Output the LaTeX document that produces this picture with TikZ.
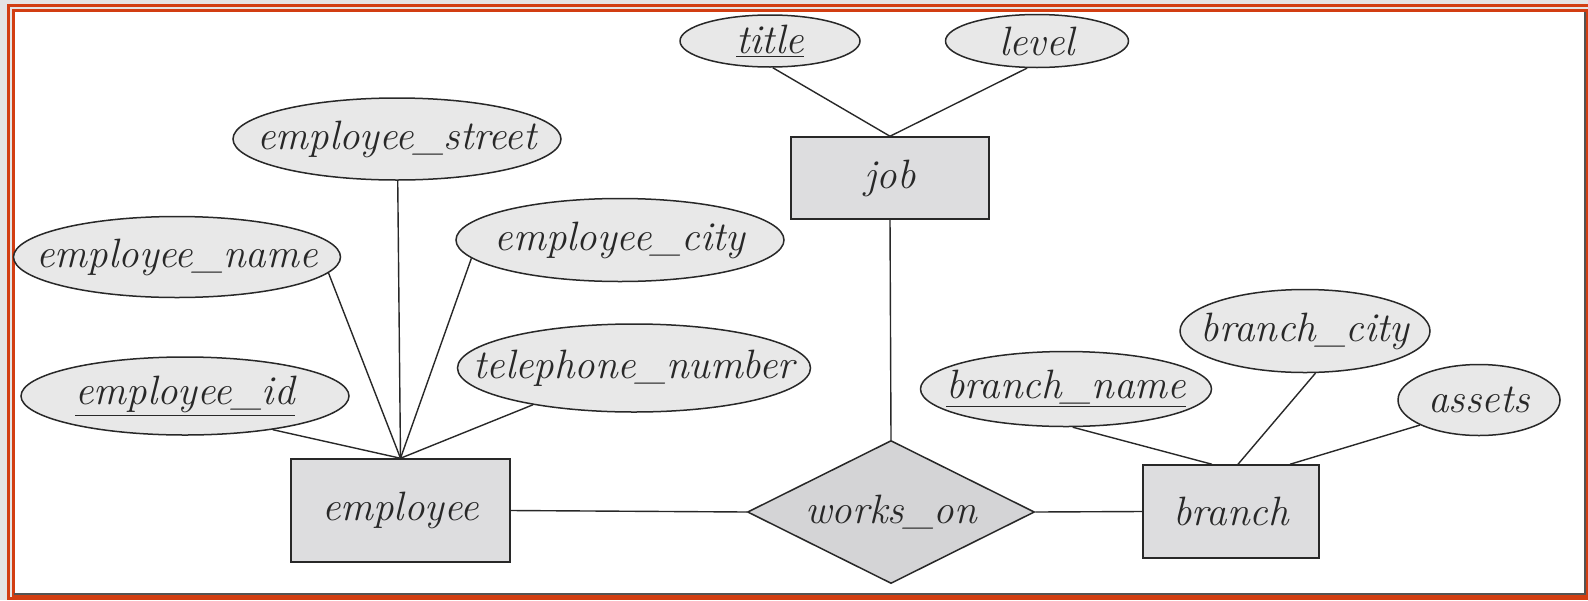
\documentclass[tikz,border=0pt]{standalone}
\usetikzlibrary{shapes.geometric,calc}
\definecolor{frameorange}{RGB}{210,62,18}
\definecolor{bggray}{RGB}{228,228,228}
\definecolor{ellfill}{RGB}{232,232,232}
\definecolor{rectfill}{RGB}{221,221,223}
\definecolor{relfill}{RGB}{212,212,214}
\definecolor{inkgray}{RGB}{40,40,40}
\tikzset{
  attr/.style={ellipse, draw=inkgray, fill=ellfill, line width=0.75pt, inner sep=0pt},
  ent/.style={rectangle, draw=inkgray, fill=rectfill, line width=0.75pt, inner sep=0pt},
  rel/.style={diamond, draw=inkgray, fill=relfill, line width=0.75pt, inner sep=0pt},
  lbl/.style={inner sep=0pt, text=inkgray, font=\fontsize{20.5}{24}\selectfont\itshape},
  conn/.style={draw=inkgray, line width=0.7pt}
}
\begin{document}
\begin{tikzpicture}[x=0.5pt,y=-0.5pt]
\useasboundingbox (0,0) rectangle (1588,600);
% frame
\fill[bggray] (0,0) rectangle (1588,600);
\draw[frameorange, line width=1.5pt] (8.5,5.5) rectangle (1600,598);
\fill[white] (13.5,10.5) rectangle (1586,595.5);
\draw[frameorange, line width=1.5pt] (13.5,10.5) rectangle (1587,596);
\draw[inkgray!80, line width=1pt] (14,594) -- (1585,594) -- (1585,12);
% attributes
\node[attr, minimum width=90pt, minimum height=26pt] (title) at (770,41) {};
\node[lbl] (titlet) at (title) {\underline{title}};
\node[attr, minimum width=91.5pt, minimum height=26.5pt] (level) at (1037,41) {};
\node[lbl] (levelt) at (level) {level};
\node[attr, minimum width=164pt, minimum height=41pt] (est) at (397,139) {};
\node[lbl] (estt) at (est) {employee\_street};
\node[attr, minimum width=163.5pt, minimum height=40.5pt] (ename) at (177,257) {};
\node[lbl] (enamet) at (ename) {employee\_name};
\node[attr, minimum width=164pt, minimum height=41.5pt] (ecity) at (620,240) {};
\node[lbl] (ecityt) at (ecity) {employee\_city};
\node[attr, minimum width=176.5pt, minimum height=44pt] (tel) at (634,368) {};
\node[lbl] (telt) at (tel) {telephone\_number};
\node[attr, minimum width=164pt, minimum height=39pt] (eid) at (185,396) {};
\node[lbl] (eidt) at (eid) {\underline{employee\_id}};
\node[attr, minimum width=145.5pt, minimum height=37.5pt] (bname) at (1066,389) {};
\node[lbl] (bnamet) at (bname) {\underline{branch\_name}};
\node[attr, minimum width=125pt, minimum height=41.5pt] (bcity) at (1305,331) {};
\node[lbl] (bcityt) at (bcity) {branch\_city};
\node[attr, minimum width=81pt, minimum height=35.5pt] (assets) at (1479,400) {};
\node[lbl] (assetst) at (assets) {assets};
% entities
\node[ent, minimum width=99pt, minimum height=41pt] (job) at (890,178) {};
\node[lbl] (jobt) at (job) {job};
\node[ent, minimum width=109.5pt, minimum height=51.5pt] (emp) at (400.5,510.5) {};
\node[lbl] (empt) at (emp) {employee};
\node[ent, minimum width=88pt, minimum height=46.5pt] (branch) at (1231,511.5) {};
\node[lbl] (brancht) at (branch) {branch};
% relationship
\node[rel, minimum width=143.5pt, minimum height=71.5pt] (wo) at (891,512) {};
\node[lbl] (wot) at (wo) {works\_on};
% connectors
\draw[conn] (title.-84) -- (job.north);
\draw[conn] (level.-110) -- (job.north);
\draw[conn] (job.south) -- (wo.north);
\draw[conn] (emp.east) -- (wo.west);
\draw[conn] (wo.east) -- (branch.west);
\draw[conn] (est.-89) -- (emp.north);
\draw[conn] (ename.-6) -- (emp.north);
\draw[conn] (ecity.-173) -- (emp.north);
\draw[conn] (tel.-160) -- (emp.north);
\draw[conn] (eid.-21) -- (emp.north);
\draw[conn] (bname.-80) -- ($(branch.north)+(-19,0)$);
\draw[conn] (bcity.-76) -- ($(branch.north)+(7,0)$);
\draw[conn] (assets.-157) -- ($(branch.north)+(59,0)$);
\end{tikzpicture}
\end{document}
